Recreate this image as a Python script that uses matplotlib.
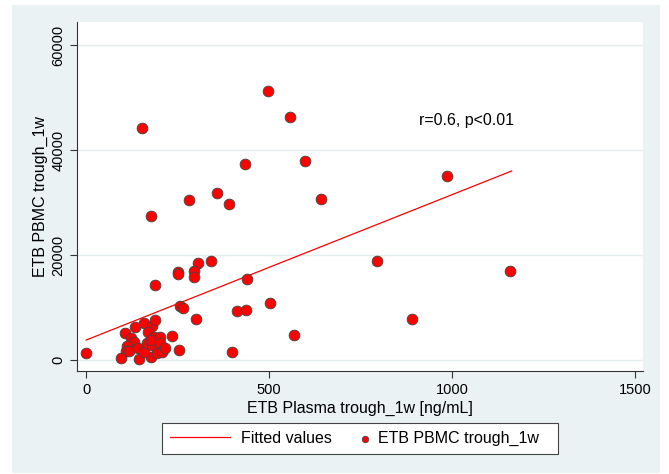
import numpy as np
import matplotlib
matplotlib.use("Agg")
import matplotlib.pyplot as plt
from matplotlib.patches import Rectangle

plt.rcParams['font.family'] = ['Liberation Sans', 'DejaVu Sans']

# ETB plasma trough (ng/mL) vs ETB PBMC trough, week 1
plasma = [0, 152, 558, 497, 434, 597, 280, 358, 391, 642, 178, 340, 307,
          296, 294, 250, 250, 189, 439, 502, 257, 266, 412, 436, 300, 567,
          985, 795, 1158, 891,
          105, 134, 159, 181, 188, 170, 122, 132, 112, 108, 116, 95, 144,
          177, 143, 158, 165, 179, 186, 177, 203, 202, 193, 208, 216, 234,
          254, 400]
pbmc = [1280, 44260, 46290, 51240, 37340, 37910, 30480, 31750, 29660, 30610,
        27370, 18920, 18410, 17020, 15760, 16820, 16320, 14290, 15370, 10800,
        10300, 10000, 9330, 9460, 7750, 4760,
        35050, 18860, 16950, 7870,
        5140, 6350, 6980, 6540, 7620, 5330, 4250, 3430, 2730, 1780, 1780, 440,
        250, 570, 2350, 1520, 3180, 2800, 4440, 3810, 4440, 3300, 1400, 1590,
        2220, 4570, 1840, 1460]

# fitted line
fit_x = [0, 1163]
fit_y = [3800, 36000]

W, H = 669, 474
bg = '#eaf2f3'
fig = plt.figure(figsize=(W / 100, H / 100), dpi=100, facecolor='white')
fig.patches.append(Rectangle((12 / W, 1 / H), 648 / W, 468 / H,
                             transform=fig.transFigure, facecolor=bg,
                             edgecolor='none', zorder=-10))

ax = fig.add_axes([77 / W, 103 / H, 566 / W, 349 / H])
ax.set_facecolor('white')

line, = ax.plot(fit_x, fit_y, color='#ff0000', lw=0.9, zorder=3)
pts = ax.scatter(plasma, pbmc, s=60, color='#ff0000', edgecolor='#444444',
                 linewidth=0.6, zorder=4)

ax.set_xlim(-25, 1522)
ax.set_ylim(-2095, 64380)
ax.set_xticks([0, 500, 1000, 1500])
ax.set_yticks([0, 20000, 40000, 60000])
ax.set_yticklabels(['0', '20000', '40000', '60000'], rotation=90, va='center')
ax.grid(axis='y', color='#e3ecee', lw=1.0)
ax.set_axisbelow(True)

for s in ['top', 'right']:
    ax.spines[s].set_visible(False)
for s in ['left', 'bottom']:
    ax.spines[s].set_color('#333333')
    ax.spines[s].set_linewidth(0.8)
ax.tick_params(colors='#333333', labelcolor='black', labelsize=10.5,
               length=5, width=0.8)

ax.set_xlabel('ETB Plasma trough_1w [ng/mL]', fontsize=11.5, labelpad=3)
ax.set_ylabel('ETB PBMC trough_1w', fontsize=11.5, labelpad=2)

ax.text(910, 45530, 'r=0.6, p<0.01', fontsize=11.5, va='center')

# legend: white box with two entries
fig.patches.append(Rectangle((162 / W, 20 / H), 396 / W, 31 / H,
                             transform=fig.transFigure, facecolor='white',
                             edgecolor='#444444', lw=0.8, zorder=5))
ymid = 35.5 / H
leg1 = fig.legend([line], ['Fitted values'], loc='center left',
                  bbox_to_anchor=(170 / W, ymid), frameon=False,
                  fontsize=11.5, handlelength=3.76, handletextpad=0.69,
                  borderpad=0, borderaxespad=0)
leg2 = fig.legend([pts], ['ETB PBMC trough_1w'], loc='center left',
                  bbox_to_anchor=(357 / W, ymid), frameon=False,
                  fontsize=11.5, handlelength=1.0, handletextpad=0.33,
                  borderpad=0, borderaxespad=0, markerscale=0.6,
                  scatterpoints=1)
leg1.set_zorder(6)
leg2.set_zorder(6)

fig.savefig('out.png', dpi=100, facecolor='white')
